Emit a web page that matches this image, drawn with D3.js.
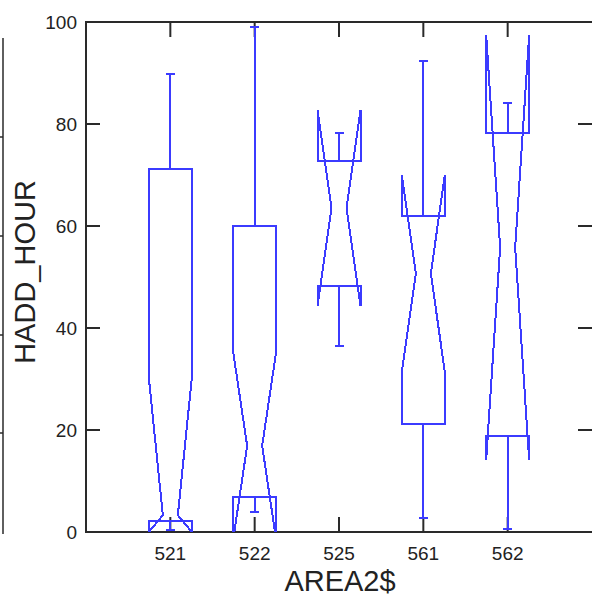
<!DOCTYPE html>
<html>
<head>
<meta charset="utf-8">
<script src="https://cdn.jsdelivr.net/npm/d3@7"></script>
<style>
  html, body { margin: 0; padding: 0; background: #fff; }
  svg { display: block; }
</style>
</head>
<body>
<div id="chart"></div>
<script>
// values
const categories = ['521', '522', '525', '561', '562'];
const whiskerLow = [0.4, 3.9, 36.5, 2.7, 0.6];
const quartile1 = [2.2, 6.9, 48.2, 21.2, 18.8];
const medians = [3.3, 16.9, 63.5, 50.7, 55.8];
const quartile3 = [71.2, 60.0, 72.7, 62.0, 78.2];
const whiskerHigh = [89.8, 99.0, 78.2, 92.4, 84.1];
const notchLow = [0, -1.5, 44.3, 31.4, 14.1];
const notchHigh = [30.2, 35.3, 82.7, 70.0, 97.5];
const yTicks = [0, 20, 40, 60, 80, 100];

const config = {
  totalWidth: 592,
  totalHeight: 602,
  left: 86,
  right: 592,
  top: 22,
  bottom: 532,
  halfBox: 21.5,
  indent: 14,
  cap: 4.5,
  tickLen: 14,
  blue: '#3b3bff',
  axis: '#2a2a2a'
};

const boxes = categories.map((c, i) => ({
  cat: c,
  lo: whiskerLow[i],
  q1: quartile1[i],
  med: medians[i],
  q3: quartile3[i],
  hi: whiskerHigh[i],
  nLo: notchLow[i],
  nHi: notchHigh[i]
}));

const xScale = d3.scaleLinear()
  .domain([0, categories.length + 1])
  .range([config.left, config.right]);
const xPos = d => xScale(categories.indexOf(d) + 1);
const yScale = d3.scaleLinear()
  .domain([0, 100])
  .range([config.bottom, config.top]);

const svg = d3.select('#chart').append('svg')
  .attr('width', config.totalWidth)
  .attr('height', config.totalHeight)
  .style('font-family', 'Arial, "Liberation Sans", sans-serif');

svg.append('defs').append('clipPath')
  .attr('id', 'plotClip')
  .append('rect')
  .attr('x', config.left)
  .attr('y', config.top - 2)
  .attr('width', config.right - config.left)
  .attr('height', config.bottom - config.top + 2);

// bit of the neighbouring panel at the left edge
const side = svg.append('g').attr('stroke', config.axis).attr('stroke-width', 1.5);
side.append('line').attr('x1', 3).attr('x2', 3).attr('y1', 38).attr('y2', 534);
[137, 236, 335, 433].forEach(y => {
  side.append('line').attr('x1', 0).attr('x2', 3).attr('y1', y).attr('y2', y);
});

// frame and inward ticks
const frame = svg.append('g')
  .attr('stroke', config.axis)
  .attr('stroke-width', 2)
  .attr('fill', 'none');
frame.append('rect')
  .attr('x', config.left)
  .attr('y', config.top)
  .attr('width', config.right - config.left + 5)
  .attr('height', config.bottom - config.top);

frame.selectAll('.yTickL')
  .data(yTicks)
  .enter()
  .append('line')
  .attr('x1', config.left)
  .attr('x2', config.left + config.tickLen)
  .attr('y1', d => yScale(d))
  .attr('y2', d => yScale(d));
frame.selectAll('.yTickR')
  .data(yTicks)
  .enter()
  .append('line')
  .attr('x1', config.right)
  .attr('x2', config.right - config.tickLen)
  .attr('y1', d => yScale(d))
  .attr('y2', d => yScale(d));
frame.selectAll('.xTickB')
  .data(categories)
  .enter()
  .append('line')
  .attr('x1', xPos)
  .attr('x2', xPos)
  .attr('y1', config.bottom)
  .attr('y2', config.bottom - 15);
frame.selectAll('.xTickT')
  .data(categories)
  .enter()
  .append('line')
  .attr('x1', xPos)
  .attr('x2', xPos)
  .attr('y1', config.top)
  .attr('y2', config.top + 15);

svg.selectAll('.yLabel')
  .data(yTicks)
  .enter()
  .append('text')
  .attr('x', 77)
  .attr('y', d => yScale(d) + 7)
  .attr('text-anchor', 'end')
  .attr('font-size', 19)
  .attr('fill', '#222')
  .text(d => d);

svg.selectAll('.xLabel')
  .data(categories)
  .enter()
  .append('text')
  .attr('x', xPos)
  .attr('y', 560)
  .attr('text-anchor', 'middle')
  .attr('font-size', 19)
  .attr('fill', '#222')
  .text(d => d);

svg.append('text')
  .attr('x', 340)
  .attr('y', 591)
  .attr('text-anchor', 'middle')
  .attr('font-size', 29)
  .attr('fill', '#222')
  .text('AREA2$');

svg.append('text')
  .attr('transform', 'translate(35,272) rotate(-90)')
  .attr('text-anchor', 'middle')
  .attr('font-size', 29)
  .attr('fill', '#222')
  .text('HADD_HOUR');

// notched boxes
const plot = svg.append('g')
  .attr('clip-path', 'url(#plotClip)')
  .attr('stroke', config.blue)
  .attr('stroke-width', 2)
  .attr('fill', 'none')
  .attr('shape-rendering', 'crispEdges');

const notchPath = b => {
  const cx = xPos(b.cat);
  const l = cx - config.halfBox;
  const r = cx + config.halfBox;
  const p = d3.path();
  p.moveTo(l, yScale(b.q3));
  p.lineTo(l, yScale(b.nHi));
  p.lineTo(l + config.indent, yScale(b.med));
  p.lineTo(l, yScale(b.nLo));
  p.lineTo(l, yScale(b.q1));
  p.lineTo(r, yScale(b.q1));
  p.lineTo(r, yScale(b.nLo));
  p.lineTo(r - config.indent, yScale(b.med));
  p.lineTo(r, yScale(b.nHi));
  p.lineTo(r, yScale(b.q3));
  p.closePath();
  return p.toString();
};

plot.selectAll('.box')
  .data(boxes)
  .enter()
  .append('path')
  .attr('d', notchPath);

// whiskers
plot.selectAll('.whiskerHi')
  .data(boxes)
  .enter()
  .append('line')
  .attr('x1', d => xPos(d.cat))
  .attr('x2', d => xPos(d.cat))
  .attr('y1', d => yScale(d.q3))
  .attr('y2', d => yScale(d.hi));
plot.selectAll('.whiskerLo')
  .data(boxes)
  .enter()
  .append('line')
  .attr('x1', d => xPos(d.cat))
  .attr('x2', d => xPos(d.cat))
  .attr('y1', d => yScale(d.q1))
  .attr('y2', d => yScale(d.lo));
plot.selectAll('.capHi')
  .data(boxes)
  .enter()
  .append('line')
  .attr('x1', d => xPos(d.cat) - config.cap)
  .attr('x2', d => xPos(d.cat) + config.cap)
  .attr('y1', d => yScale(d.hi))
  .attr('y2', d => yScale(d.hi));
plot.selectAll('.capLo')
  .data(boxes)
  .enter()
  .append('line')
  .attr('x1', d => xPos(d.cat) - config.cap)
  .attr('x2', d => xPos(d.cat) + config.cap)
  .attr('y1', d => yScale(d.lo))
  .attr('y2', d => yScale(d.lo));
</script>
</body>
</html>
